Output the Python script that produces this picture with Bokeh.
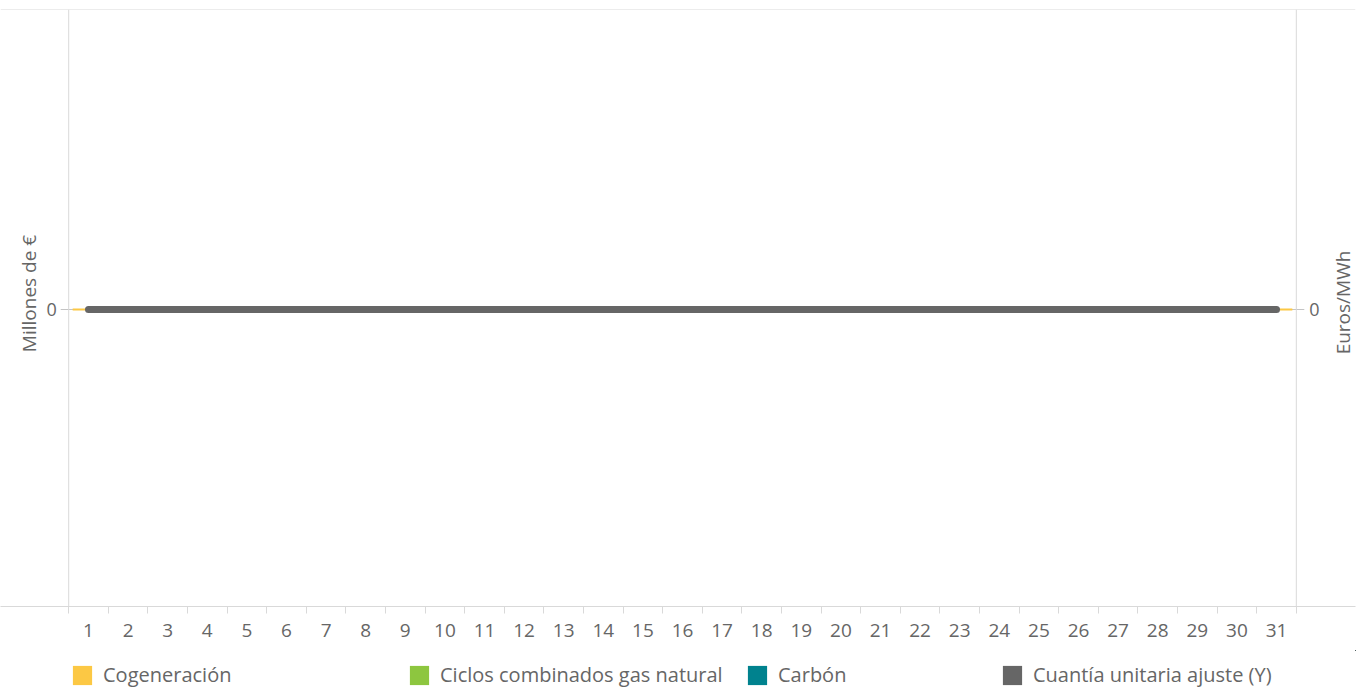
import math
from bokeh.plotting import figure
from bokeh.layouts import column
from bokeh.models import (Range1d, FixedTicker, Span, Label, Legend, LegendItem,
                          ColumnDataSource)
from bokeh.embed import file_html
from bokeh.resources import INLINE

# ---- data ----
days = [1, 2, 3, 4, 5, 6, 7, 8, 9, 10, 11, 12, 13, 14, 15, 16, 17, 18, 19, 20,
        21, 22, 23, 24, 25, 26, 27, 28, 29, 30, 31]
cogeneracion = [0, 0, 0, 0, 0, 0, 0, 0, 0, 0, 0, 0, 0, 0, 0, 0, 0, 0, 0, 0,
                0, 0, 0, 0, 0, 0, 0, 0, 0, 0, 0]
ciclos_combinados = [0, 0, 0, 0, 0, 0, 0, 0, 0, 0, 0, 0, 0, 0, 0, 0, 0, 0, 0, 0,
                     0, 0, 0, 0, 0, 0, 0, 0, 0, 0, 0]
carbon = [0, 0, 0, 0, 0, 0, 0, 0, 0, 0, 0, 0, 0, 0, 0, 0, 0, 0, 0, 0,
          0, 0, 0, 0, 0, 0, 0, 0, 0, 0, 0]
cuantia_unitaria = [0, 0, 0, 0, 0, 0, 0, 0, 0, 0, 0, 0, 0, 0, 0, 0, 0, 0, 0, 0,
                    0, 0, 0, 0, 0, 0, 0, 0, 0, 0, 0]
series_names = ["Cogeneración", "Ciclos combinados gas natural", "Carbón",
                "Cuantía unitaria ajuste (Y)"]
series_colors = ["#FCC844", "#8DC63F", "#00828E", "#666666"]
left_title = "Millones de €"
right_title = "Euros/MWh"
y_tick_label = "0"

FONT = "Open Sans"
TXT = "#666666"
AXC = "#d9d9d9"

p = figure(width=1366, height=650, output_backend="svg", toolbar_location=None,
           x_range=Range1d(-1.2222, 32.9949), y_range=Range1d(-0.99, 1.0),
           y_axis_location=None,
           min_border_left=0, min_border_right=11, min_border_top=9,
           min_border_bottom=44)
p.grid.visible = False
p.outline_line_color = None

x_left = days[0] - 0.5
x_right = days[-1] + 0.5
minor = [d - 0.5 for d in days] + [x_right]

ax = p.xaxis[0]
ax.ticker = FixedTicker(ticks=days, minor_ticks=minor)
ax.axis_line_color = AXC
ax.major_tick_out = 0
ax.major_tick_in = 0
ax.minor_tick_out = 7
ax.minor_tick_in = 0
ax.minor_tick_line_color = AXC
ax.major_label_text_font = FONT
ax.major_label_text_font_size = "19px"
ax.major_label_text_color = TXT
ax.major_label_standoff = 10

# frame lines
p.add_layout(Span(location=1.0, dimension="width", line_color=AXC, line_width=1))
p.add_layout(Span(location=x_left, dimension="height", line_color=AXC, line_width=1))
p.add_layout(Span(location=x_right, dimension="height", line_color=AXC, line_width=1))

# zero reference line (dashed)
p.segment(x0=[x_left], y0=[0], x1=[x_right], y1=[0], line_color="#c8c8c8",
          line_width=1, line_dash="2 2")
# y tick marks
p.scatter(x=[x_left, x_right], y=[0, 0], marker="dash", size=16,
          line_color="#c4c4c4", line_width=1)

# stacked bars (all zero height)
src = ColumnDataSource(dict(day=days, cog=cogeneracion, ccgn=ciclos_combinados,
                            car=carbon, cu=cuantia_unitaria))
p.vbar(x="day", top="ccgn", bottom=0, width=0.8, source=src,
       fill_color=series_colors[1], line_color=None)
p.vbar(x="day", top="car", bottom=0, width=0.8, source=src,
       fill_color=series_colors[2], line_color=None)
p.vbar(x="day", top="cog", bottom=0, width=0.8, source=src,
       fill_color=series_colors[0], line_color=series_colors[0], line_width=2)
# line series
p.line(x="day", y="cu", source=src, line_color=series_colors[3], line_width=7,
       line_cap="round", line_join="round")

# zero labels
p.add_layout(Label(x=x_left, y=0, text=y_tick_label, x_offset=-12,
                   text_align="right", text_baseline="middle", text_font=FONT,
                   text_font_size="18px", text_color=TXT))
p.add_layout(Label(x=x_right, y=0, text=y_tick_label, x_offset=13,
                   text_align="left", text_baseline="middle", text_font=FONT,
                   text_font_size="18px", text_color=TXT))
# axis titles
p.add_layout(Label(x=28, x_units="screen", y=0, y_offset=16, text=left_title,
                   angle=math.pi / 2, text_align="center", text_baseline="middle",
                   text_font=FONT, text_font_size="19px", text_color=TXT))
p.add_layout(Label(x=1342, x_units="screen", y=0, y_offset=7, text=right_title,
                   angle=math.pi / 2, text_align="center", text_baseline="middle",
                   text_font=FONT, text_font_size="19px", text_color=TXT))

# ---- legend strip ----
lg = figure(width=1366, height=39, output_backend="svg", toolbar_location=None,
            x_range=Range1d(-40, -10), y_range=Range1d(-40, -10),
            x_axis_location=None, y_axis_location=None,
            min_border_left=0, min_border_right=0, min_border_top=0,
            min_border_bottom=0)
lg.grid.visible = False
lg.outline_line_color = None

leg_x = [70, 407, 745, 1000]
cols = ["cog", "ccgn", "car", "cu"]
for name, color, col, lx in zip(series_names, series_colors, cols, leg_x):
    # same data, outside this strip's view: used only for its legend swatch
    proxy = lg.vbar(x="day", top=col, bottom=0, width=0.8, source=src,
                    fill_color=color, line_color=None)
    leg = Legend(items=[LegendItem(label=name, renderers=[proxy])],
                 location=(lx, 1), orientation="horizontal",
                 glyph_width=24, glyph_height=24, label_height=24,
                 label_standoff=9, padding=0, margin=0, spacing=0,
                 border_line_color=None, background_fill_alpha=0,
                 label_text_font=FONT, label_text_font_size="20px",
                 label_text_color=TXT, label_text_baseline="middle")
    lg.add_layout(leg)

layout = column(p, lg, spacing=0)
open("out.html", "w").write(file_html(layout, INLINE))
